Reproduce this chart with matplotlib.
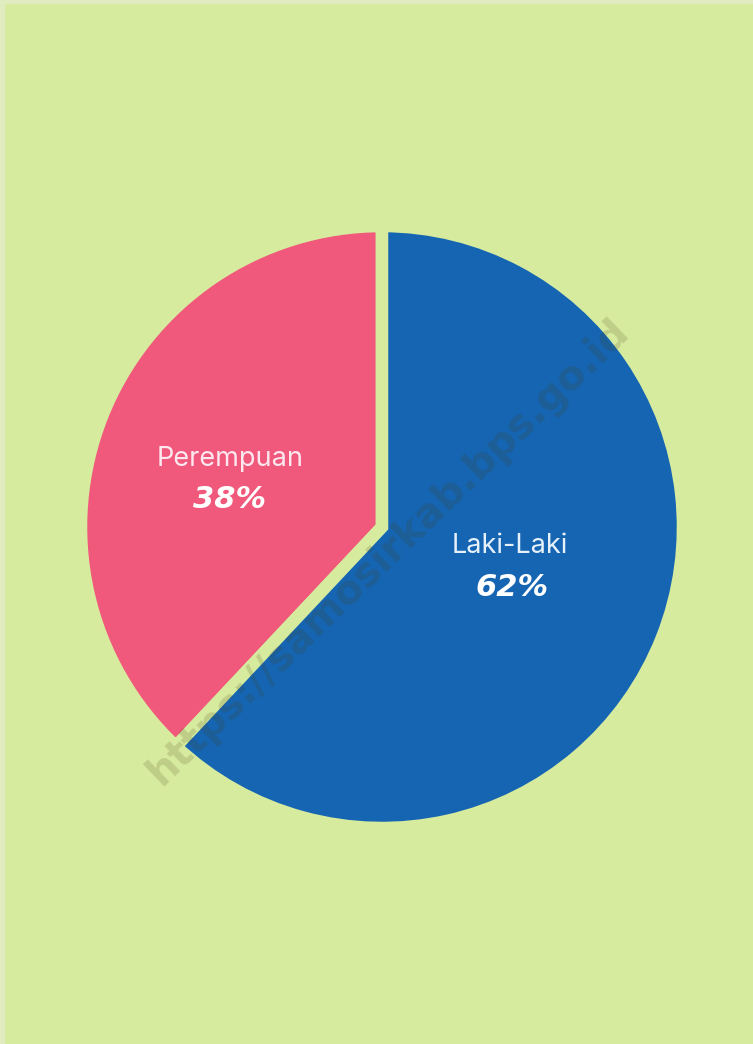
import matplotlib
matplotlib.use("Agg")
import matplotlib.pyplot as plt

categories = ["Perempuan", "Laki-Laki"]
values = [38, 62]
colors = ["#f0597b", "#1565b2"]
bg = "#d7eb9f"

W, H = 753, 1044
fig = plt.figure(figsize=(W / 100, H / 100), dpi=100, facecolor=bg)
ax = fig.add_axes([0, 0, 1, 1])
ax.set_facecolor(bg)

cx, cy, r = 382, H - 527, 301
wedges, _ = ax.pie(values, colors=colors, startangle=90, counterclock=True,
                   center=(cx, cy), radius=r, frame=True,
                   wedgeprops=dict(edgecolor=bg, linewidth=9))
ax.set_xlim(0, W)
ax.set_ylim(0, H)
ax.set_aspect("equal")
ax.axis("off")

# labels
label_pos = {"Perempuan": (230, 459), "Laki-Laki": (510, 546)}
pct_dx = {"Perempuan": 0, "Laki-Laki": 2}
for cat, val in zip(categories, values):
    x, y = label_pos[cat]
    ax.text(x, H - y, cat, ha="center", va="center",
            color="#fde8ef" if cat == "Perempuan" else "#e6f1fb",
            fontsize=19.5, family="Inter", zorder=6)
    ax.text(x + pct_dx[cat], H - y - 41, f"{val}%", ha="center", va="center",
            color="white", fontsize=22, fontweight="bold", fontstyle="italic",
            family="DejaVu Sans", zorder=6)

# watermark
ax.text(388, H - 552, "https://samosirkab.bps.go.id", rotation=44, ha="center", va="center",
        fontsize=29, fontweight="bold", color="#4a3c10", alpha=0.17,
        family="DejaVu Sans", zorder=7)

# light border strips
ax.axvspan(0, 4, color="#e0ebc0", zorder=5)
ax.axhspan(H - 3, H, color="#e0ebc0", zorder=5)

fig.savefig("out.png", dpi=100, facecolor=bg)
